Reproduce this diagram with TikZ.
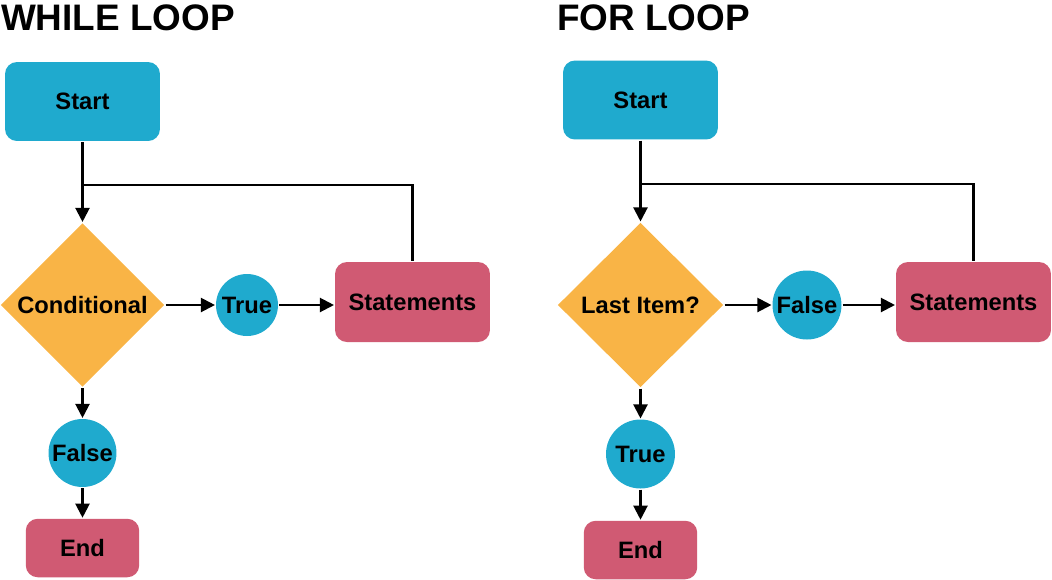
\documentclass[tikz,border=0pt]{standalone}
\usepackage{fontspec}
\setmainfont{Liberation Sans}
\usetikzlibrary{shapes.geometric}
\usetikzlibrary{arrows.meta}
\definecolor{loopblue}{RGB}{31,170,206}
\definecolor{looporange}{RGB}{249,180,70}
\definecolor{looppink}{RGB}{208,90,115}
\tikzset{
every picture/.style={line width=1.2pt, >={Triangle[length=8pt,width=8pt]},
                      x=0.02cm, y=-0.02cm},
%%%%%%%%%%  Node styles
title/.style={anchor=base west, inner sep=0pt,
              font=\fontsize{21}{25}\selectfont\bfseries},
terminal/.style={rectangle, rounded corners=6.8pt, fill=loopblue,
                 minimum width=3.1cm, minimum height=1.58cm,
                 font=\fontsize{13.5}{15}\selectfont\bfseries},
endbox/.style={rectangle, rounded corners=6.8pt, fill=looppink,
               minimum width=2.27cm, minimum height=1.17cm,
               font=\fontsize{13.5}{15}\selectfont\bfseries},
process/.style={rectangle, rounded corners=6.8pt, fill=looppink,
                minimum width=3.1cm, minimum height=1.6cm,
                font=\fontsize{13.5}{15}\selectfont\bfseries},
decision/.style={diamond, fill=looporange, inner sep=0pt,
                 minimum width=3.28cm, minimum height=3.28cm,
                 font=\fontsize{13.5}{15}\selectfont\bfseries},
outcome/.style={circle, fill=loopblue, inner sep=0pt, minimum size=1.36cm,
                font=\fontsize{13.5}{15}\selectfont\bfseries},
%%%% connectors
flow/.style={->},
back/.style={-}
}
\begin{document}
\begin{tikzpicture}
\useasboundingbox (0,0) rectangle (1052,579);
%%%%%%% while loop
\node[title] (wtitle) at (0,30) {WHILE LOOP};
\node[terminal] (wstart) at (82.5,101.5) {Start};
\node[decision] (wcond) at (82.5,305) {Conditional};
\node[outcome, minimum size=1.24cm] (wtrue) at (247,305) {True};
\node[process] (wstat) at (412.5,302) {Statements};
\node[outcome] (wfalse) at (82.5,453) {False};
\node[endbox] (wend) at (82.5,548) {End};
\coordinate (wjoin) at (82.5,185);
\draw[flow] (wstart) -- (wcond);
\draw[back] (wstat.north) |- (wjoin);
\draw[flow] (wcond) -- (wtrue);
\draw[flow] (wtrue.east) -- (wtrue.east -| wstat.west);
\draw[flow] (wcond) -- (wfalse);
\draw[flow] (wfalse) -- (wend);
%%%%%%% for loop
\node[title] (ftitle) at (556,30) {FOR LOOP};
\node[terminal] (fstart) at (640.5,100) {Start};
\node[decision, minimum width=3.32cm, minimum height=3.3cm] (fcond)
      at (640.5,305) {Last Item?};
\node[outcome, minimum size=1.38cm] (ffalse) at (807,305) {False};
\node[process] (fstat) at (973.5,302) {Statements};
\node[outcome, minimum size=1.38cm] (ftrue) at (640.5,454) {True};
\node[endbox] (fend) at (640.5,550) {End};
\coordinate (fjoin) at (640.5,184);
\draw[flow] (fstart) -- (fcond);
\draw[back] (fstat.north) |- (fjoin);
\draw[flow] (fcond) -- (ffalse);
\draw[flow] (ffalse.east) -- (ffalse.east -| fstat.west);
\draw[flow] (fcond) -- (ftrue);
\draw[flow] (ftrue) -- (fend);
\end{tikzpicture}
\end{document}
